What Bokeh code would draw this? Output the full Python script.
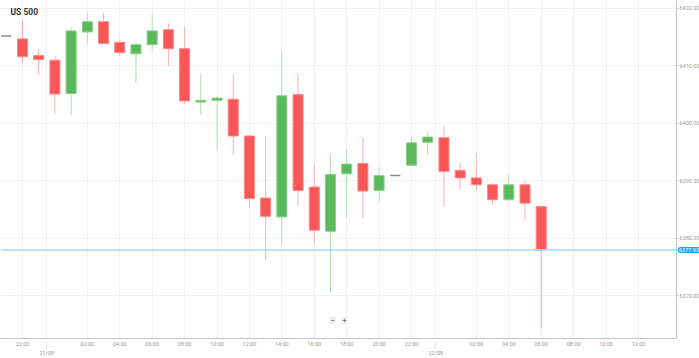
import numpy as np
from bokeh.plotting import figure
from bokeh.models import (FixedTicker, LinearAxis, Grid, Span, Label, Range1d, BoxAnnotation,
                          NumeralTickFormatter, ColumnDataSource)
from bokeh.embed import file_html
from bokeh.resources import INLINE

# ---- data (hourly candles, 20/08 21:00 .. 22/08 06:00) ----
candle_times = ["20/08 21:00", "22:00", "23:00", "21/08 00:00", "01:00", "02:00", "03:00",
                "04:00", "05:00", "06:00", "07:00", "08:00", "09:00", "10:00", "11:00",
                "12:00", "13:00", "14:00", "15:00", "16:00", "17:00", "18:00", "19:00",
                "20:00", "21:00", "22:00", "23:00", "22/08 00:00", "01:00", "02:00",
                "03:00", "04:00", "05:00", "06:00"]
opens = [6415.2, 6414.7, 6411.8, 6411.0, 6405.2, 6415.9, 6417.7, 6414.1, 6412.1, 6413.7,
         6416.3, 6413.0, 6403.7, 6404.0, 6404.2, 6397.8, 6387.0, 6383.7, 6405.0, 6388.9,
         6381.2, 6391.2, 6393.0, 6388.3, 6390.9, 6392.7, 6396.7, 6397.5, 6391.8, 6390.5,
         6389.3, 6386.7, 6389.3, 6385.5]
highs = [6415.2, 6418.0, 6412.9, 6411.7, 6416.6, 6419.2, 6419.2, 6414.6, 6414.1, 6419.0,
         6417.4, 6416.9, 6408.7, 6404.7, 6408.4, 6397.8, 6397.8, 6412.4, 6408.7, 6392.7,
         6394.6, 6395.4, 6397.6, 6392.4, 6390.9, 6397.6, 6398.6, 6399.6, 6393.1, 6394.8,
         6389.6, 6391.0, 6390.1, 6385.5]
lows = [6415.2, 6410.4, 6408.4, 6401.6, 6401.4, 6413.9, 6413.9, 6411.7, 6407.1, 6412.7,
        6410.0, 6403.4, 6401.5, 6395.5, 6394.5, 6385.2, 6376.2, 6378.9, 6385.7, 6379.2,
        6370.7, 6383.5, 6383.5, 6386.4, 6390.9, 6392.7, 6394.5, 6385.5, 6388.4, 6388.4,
        6385.8, 6386.5, 6383.2, 6364.4]
closes = [6415.2, 6411.6, 6411.1, 6405.1, 6416.1, 6417.7, 6413.9, 6412.3, 6413.7, 6416.1,
          6413.0, 6403.9, 6404.0, 6404.4, 6397.8, 6386.9, 6383.8, 6404.8, 6388.3, 6381.4,
          6391.1, 6392.9, 6388.2, 6390.9, 6390.9, 6396.6, 6397.6, 6391.6, 6390.5, 6389.3,
          6386.7, 6389.3, 6386.1, 6377.93]
last_price = 6377.93

y_ticks = [6370, 6380, 6390, 6400, 6410, 6420]
x_tick_hours = [1, 5, 7, 9, 11, 13, 15, 17, 19, 21, 23, 25, 29, 31, 33, 35, 37, 39]
x_tick_labels = ["22:00", "02:00", "04:00", "06:00", "08:00", "10:00", "12:00", "14:00",
                 "16:00", "18:00", "20:00", "22:00", "02:00", "04:00", "06:00", "08:00",
                 "10:00", "12:00"]
date_hours = [2.5, 26.5]
date_labels = ["21/08", "22/08"]

# ---- geometry helpers ----
PXH = 16.21   # px per hour
PXP = 5.76    # px per price unit
X0 = -0.357                 # left edge of chart area
X1 = X0 + 676 / PXH         # right border of chart area (price scale sits right of it)
XE = X0 + 699 / PXH         # right edge of canvas
Y0, Y1 = 6362.53, 6421.39

def px_x(px):
    return X0 + px / PXH

def px_y(py):
    return Y1 - py / PXP

x = np.arange(len(candle_times))
o = np.array(opens); h = np.array(highs); l = np.array(lows); c = np.array(closes)
up = c > o
down = c < o
flat = ~(up | down)

RED = "#f95757"; RED_L = "#ff8a8a"; RED_W = "#f8b0b0"
GRN = "#5cb85c"; GRN_L = "#8cd08c"; GRN_W = "#b2dfb2"

body_fill = np.where(up, GRN, RED)
body_line = np.where(up, GRN_L, RED_L)
wick_col = np.where(up, GRN_W, RED_W)

nf = ~flat
src = ColumnDataSource(dict(x=x[nf], top=np.maximum(o, c)[nf], bottom=np.minimum(o, c)[nf],
                            high=h[nf], low=l[nf], fill=body_fill[nf], line=body_line[nf],
                            wick=wick_col[nf]))
fsrc = ColumnDataSource(dict(x0=x[flat] - 0.31, x1=x[flat] + 0.31, y=o[flat]))

p = figure(width=699, height=358, output_backend="svg", toolbar_location=None,
           x_range=Range1d(X0, XE), y_range=Range1d(Y0, Y1), y_axis_location=None,
           min_border_left=0, min_border_top=0, min_border_right=0, min_border_bottom=19,
           background_fill_color="white", border_fill_color="white")
p.outline_line_color = None

FONT = "Roboto"
xa = p.xaxis[0]
xa.ticker = FixedTicker(ticks=x_tick_hours)
xa.major_label_overrides = {hh: lab for hh, lab in zip(x_tick_hours, x_tick_labels)}
xa.bounds = (X0, X1)
xa.major_tick_out = 0
xa.major_tick_in = 0
xa.minor_tick_out = 0
xa.minor_tick_in = 0
xa.axis_line_color = "#c4c4c4"
xa.major_label_text_font = FONT
xa.major_label_text_font_size = "5.5px"
xa.major_label_text_color = "#9a9a9a"
xa.major_label_standoff = 2

da = LinearAxis(ticker=FixedTicker(ticks=date_hours),
                major_label_overrides={hh: lab for hh, lab in zip(date_hours, date_labels)})
da.axis_line_color = None
da.major_tick_out = 0
da.major_tick_in = 8
da.major_tick_line_color = "#c8c8c8"
da.major_tick_line_dash = "1 1"
da.minor_tick_out = 0
da.minor_tick_in = 0
da.major_label_text_font = FONT
da.major_label_text_font_size = "5.5px"
da.major_label_text_color = "#9a9a9a"
da.major_label_standoff = 0
p.add_layout(da, "below")
p.add_layout(Grid(dimension=0, ticker=da.ticker, grid_line_color="#e2e2e2"))

# price scale drawn at the chart's right border
ya = LinearAxis(ticker=FixedTicker(ticks=y_ticks), formatter=NumeralTickFormatter(format="0.00"),
                fixed_location=X1)
ya.major_tick_out = 2
ya.major_tick_in = 0
ya.minor_tick_out = 0
ya.minor_tick_in = 0
ya.axis_line_color = "#c4c4c4"
ya.major_tick_line_color = "#c4c4c4"
ya.major_label_text_font = FONT
ya.major_label_text_font_size = "5.5px"
ya.major_label_text_color = "#9a9a9a"
ya.major_label_standoff = 1
p.add_layout(ya, "right")
p.add_layout(Grid(dimension=1, ticker=ya.ticker, grid_line_color="#f1f1f1"))

p.xgrid.grid_line_color = "#f1f1f1"

# blank strip under the price scale (hides grid lines beyond the chart border)
p.add_layout(BoxAnnotation(left=X1, right=XE + 1, fill_color="white", fill_alpha=1,
                           line_color=None, level="underlay"))

p.add_layout(Span(location=last_price, dimension="width", line_color="#a9d7f5",
                  line_width=1.5))

p.segment(x0="x", y0="low", x1="x", y1="high", source=src, line_color="wick", line_width=1)
p.vbar(x="x", width=0.62, top="top", bottom="bottom", source=src,
       fill_color="fill", line_color="line", line_width=1)
p.segment(x0="x0", y0="y", x1="x1", y1="y", source=fsrc, line_color="#8a8a8a",
          line_width=1.5)

p.add_layout(Label(x=px_x(10), y=px_y(7), text="US 500", text_font=FONT,
                   text_font_style="bold", text_font_size="8.5px", text_color="#333333",
                   text_baseline="top"))

p.add_layout(Label(x=px_x(677.5), y=last_price, text="6377.93", text_font=FONT,
                   text_font_size="5.5px", text_color="white", text_baseline="middle",
                   background_fill_color="#2c9cf2", border_radius=2, padding=1))

for lab, px in (("\u2212", 332), ("+", 344)):
    p.add_layout(Label(x=px_x(px), y=px_y(321), text=lab, text_font=FONT,
                       text_font_size="8px", text_color="#555555", text_align="center",
                       text_baseline="middle", background_fill_color="#f0f0f0",
                       padding=1))

open("out.html", "w").write(file_html(p, INLINE))
